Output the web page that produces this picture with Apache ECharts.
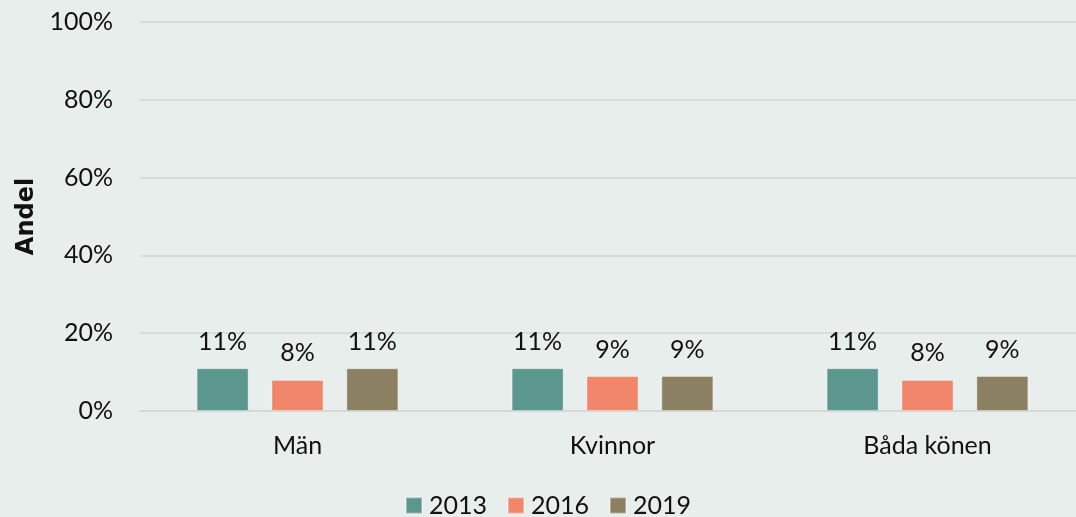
<!DOCTYPE html>
<html>
<head>
<meta charset="utf-8">
<script src="https://cdn.jsdelivr.net/npm/echarts@6/dist/echarts.min.js"></script>
<style>
  html, body { margin: 0; padding: 0; background: #e8eeec; overflow: hidden; }
  #chart { width: 1085px; height: 517px; }
</style>
</head>
<body>
<div id="chart"></div>
<script>
// Share (%) by gender group and survey year
const categories = ['Män', 'Kvinnor', 'Båda könen'];
const years = ['2013', '2016', '2019'];
const values2013 = [11, 11, 11];
const values2016 = [8, 9, 8];
const values2019 = [11, 9, 9];
const yTicks = [0, 20, 40, 60, 80, 100];

const colors = ['#5b968f', '#f2866a', '#8c8063'];
const seriesValues = [values2013, values2016, values2019];
const font = 'Lato, "Open Sans", sans-serif';
const fs = 25;

const chart = echarts.init(document.getElementById('chart'), null, { renderer: 'canvas' });

chart.setOption({
  backgroundColor: '#e8eeec',
  animation: false,
  textStyle: { fontFamily: font, color: '#111' },
  grid: { left: 140, top: 22, right: 0, bottom: 106, containLabel: false },
  legend: {
    top: 488,
    left: 400,
    itemWidth: 16,
    itemHeight: 16,
    itemGap: 20,
    icon: 'rect',
    textStyle: { fontFamily: font, fontSize: fs, color: '#111', padding: [0, 0, 0, 2] },
    data: years
  },
  xAxis: {
    type: 'category',
    data: categories,
    axisTick: { show: false },
    axisLine: { lineStyle: { color: '#d4d6d5', width: 1.5 } },
    axisLabel: { fontFamily: font, fontSize: fs, color: '#111', margin: 22 }
  },
  yAxis: {
    type: 'value',
    min: yTicks[0],
    max: yTicks[yTicks.length - 1],
    interval: 20,
    name: 'Andel',
    nameLocation: 'middle',
    nameGap: 97,
    nameRotate: 90,
    nameTextStyle: { fontFamily: '"DejaVu Sans", Verdana, sans-serif', fontWeight: 'bold', fontSize: 24, color: '#111' },
    axisLine: { show: false },
    axisTick: { show: false },
    splitLine: { lineStyle: { color: '#d4d6d5', width: 1.5 } },
    axisLabel: {
      fontFamily: font, fontSize: fs, color: '#111', margin: 27,
      formatter: v => v + '%'
    }
  },
  series: years.map((y, i) => ({
    name: y,
    type: 'bar',
    data: seriesValues[i],
    barWidth: 52,
    barGap: '44%',
    itemStyle: { color: colors[i], borderColor: 'rgba(255,255,255,0.35)', borderWidth: 1 },
    label: {
      show: true,
      position: 'top',
      distance: 14,
      fontFamily: font,
      fontSize: fs,
      color: '#111',
      formatter: p => p.value + '%'
    }
  }))
});
</script>
</body>
</html>
